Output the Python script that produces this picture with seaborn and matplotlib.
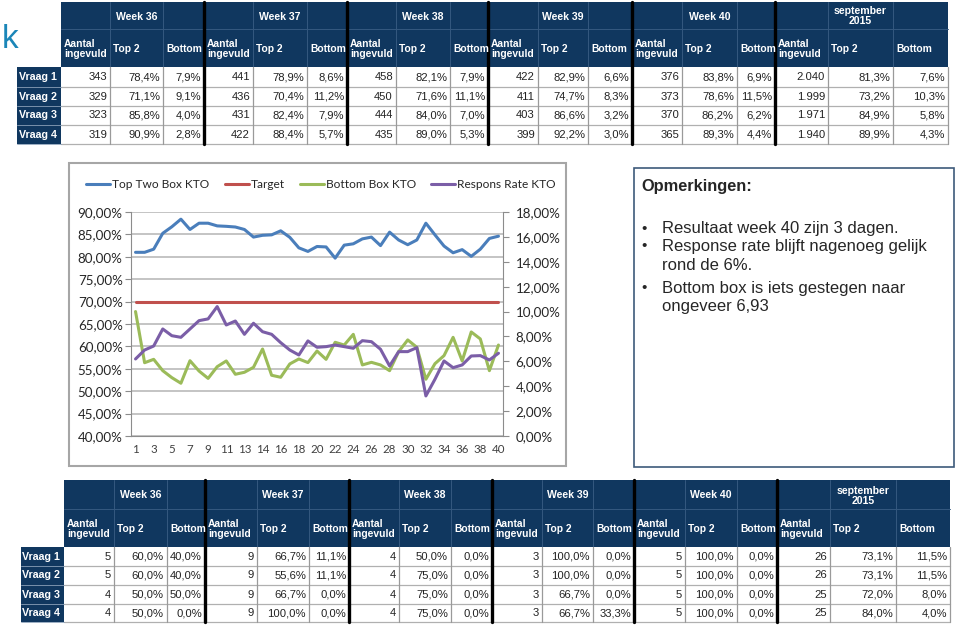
import numpy as np
import pandas as pd
import seaborn as sns
import matplotlib.pyplot as plt
from matplotlib.patches import Rectangle
from matplotlib.ticker import FuncFormatter, MultipleLocator, FixedLocator

# ---- table data ----
weeks = ["Week 36", "Week 37", "Week 38", "Week 39", "Week 40", "september\n2015"]
sub_headers = ["Aantal\ningevuld", "Top 2", "Bottom"]
questions = ["Vraag 1", "Vraag 2", "Vraag 3", "Vraag 4"]

top_counts = [[343, 441, 458, 422, 376, 2040],
              [329, 436, 450, 411, 373, 1999],
              [323, 431, 444, 403, 370, 1971],
              [319, 422, 435, 399, 365, 1940]]
top_top2 = [[78.4, 78.9, 82.1, 82.9, 83.8, 81.3],
            [71.1, 70.4, 71.6, 74.7, 78.6, 73.2],
            [85.8, 82.4, 84.0, 86.6, 86.2, 84.9],
            [90.9, 88.4, 89.0, 92.2, 89.3, 89.9]]
top_bottom = [[7.9, 8.6, 7.9, 6.6, 6.9, 7.6],
              [9.1, 11.2, 11.1, 8.3, 11.5, 10.3],
              [4.0, 7.9, 7.0, 3.2, 6.2, 5.8],
              [2.8, 5.7, 5.3, 3.0, 4.4, 4.3]]

low_counts = [[5, 9, 4, 3, 5, 26],
              [5, 9, 4, 3, 5, 26],
              [4, 9, 4, 3, 5, 25],
              [4, 9, 4, 3, 5, 25]]
low_top2 = [[60.0, 66.7, 50.0, 100.0, 100.0, 73.1],
            [60.0, 55.6, 75.0, 100.0, 100.0, 73.1],
            [50.0, 66.7, 75.0, 66.7, 100.0, 72.0],
            [50.0, 100.0, 75.0, 66.7, 100.0, 84.0]]
low_bottom = [[40.0, 11.1, 0.0, 0.0, 0.0, 11.5],
              [40.0, 11.1, 0.0, 0.0, 0.0, 11.5],
              [50.0, 0.0, 0.0, 0.0, 0.0, 8.0],
              [0.0, 0.0, 0.0, 33.3, 0.0, 4.0]]

# ---- chart data (percent) ----
top_two = [81.0, 81.0, 81.7, 85.25, 86.7, 88.4, 86.1, 87.5, 87.5, 86.9, 86.8,
           86.65, 86.1, 84.4, 84.8, 84.9, 85.8, 84.35, 82.0, 81.2, 82.3,
           82.2, 79.7, 82.6, 82.9, 84.0, 84.4, 82.5, 85.5, 83.75, 82.7,
           83.75, 87.5, 84.9, 82.4, 80.9, 81.6, 80.1, 81.7, 84.1, 84.6]
target = [70.0] * 41
bottom_box = [10.0, 5.89, 6.16, 5.25, 4.69, 4.24, 6.05, 5.22, 4.63, 5.57, 6.03,
              4.96, 5.12, 5.52, 6.99, 4.88, 4.72, 5.79, 6.19, 5.9, 6.83,
              6.16, 7.53, 7.31, 8.17, 5.71, 5.92, 5.71, 5.25, 6.78, 7.72,
              7.13, 4.56, 5.81, 6.46, 7.93, 6.03, 8.36, 7.80, 5.25, 7.31]
respons = [6.19, 6.91, 7.23, 8.60, 8.06, 7.93, 8.60, 9.27, 9.41, 10.40, 8.92,
           9.24, 8.17, 9.06, 8.38, 8.17, 7.50, 6.91, 6.51, 7.64, 7.13,
           7.18, 7.31, 7.18, 7.05, 7.66, 7.58, 6.97, 5.63, 6.78, 6.78,
           7.10, 3.22, 4.56, 6.03, 5.49, 5.71, 6.43, 6.46, 6.11, 6.65]
x_ticklabels = ["1", "3", "5", "7", "9", "11", "13", "14", "16", "18", "20",
                "22", "24", "26", "28", "30", "32", "34", "36", "38", "40"]
series_labels = ["Top Two Box KTO", "Target", "Bottom Box KTO", "Respons Rate KTO"]

remark_title = "Opmerkingen:"
remark_lines = [("\u2022", "Resultaat week 40 zijn 3 dagen."),
                ("\u2022", "Response rate blijft nagenoeg gelijk"),
                ("", "rond de 6%."),
                ("\u2022", "Bottom box is iets gestegen naar"),
                ("", "ongeveer 6,93")]

sns.set_style("white")
plt.rcParams['font.family'] = ['Liberation Sans', 'DejaVu Sans']

NAVY = '#10375f'
BLUE, RED, GREEN, PURPLE = '#4a7ebb', '#c0504d', '#9bbb59', '#7b5ea7'

fig = plt.figure(figsize=(9.6, 6.26), dpi=100)
bg = fig.add_axes([0, 0, 1, 1])
bg.set_xlim(0, 960)
bg.set_ylim(626, 0)
bg.axis('off')


def fmt_count(n):
    return f"{n:,}".replace(",", ".")


def fmt_pct(v):
    return f"{v:.1f}%".replace(".", ",")


def draw_table(ax, xe, ye, lab_x, counts, top2, bottom):
    y0, ymid, yh = ye[0], ye[1], ye[2]
    rows = ye[2:]
    ax.add_patch(Rectangle((xe[0], y0), xe[-1] - xe[0], yh - y0, fc=NAVY, ec='none'))
    ax.plot([xe[0], xe[-1]], [ymid, ymid], color='#35597f', lw=0.7)
    for x in xe[1:-1]:
        ax.plot([x, x], [y0, yh], color='#35597f', lw=0.7)
    for g, wk in enumerate(weeks):
        c = 3 * g
        ax.text((xe[c + 1] + xe[c + 2]) / 2, (y0 + ymid) / 2 + 1, wk, ha='center', va='center',
                color='white', fontweight='bold', fontsize=7.6, linespacing=1.0)
        for k, sub in enumerate(sub_headers):
            ax.text(xe[c + k] + 3, (ymid + yh) / 2 + 1, sub, ha='left', va='center',
                    color='white', fontweight='bold', fontsize=7.4, linespacing=1.05)
    # row labels
    ax.add_patch(Rectangle((lab_x, rows[0]), xe[0] - lab_x, rows[-1] - rows[0], fc=NAVY, ec='none'))
    for r, q in enumerate(questions):
        yc = (rows[r] + rows[r + 1]) / 2
        ax.text(xe[0] - 4, yc + 0.5, q, ha='right', va='center', color='white',
                fontweight='bold', fontsize=7.7)
        vals = []
        for g in range(6):
            vals += [fmt_count(counts[r][g]), fmt_pct(top2[r][g]), fmt_pct(bottom[r][g])]
        for c, v in enumerate(vals):
            ax.text(xe[c + 1] - 3, yc + 0.5, v, ha='right', va='center', fontsize=8.1, color='#222222')
    for y in rows[1:]:
        ax.plot([xe[0], xe[-1]], [y, y], color='#b0b0b0', lw=0.9)
        ax.plot([lab_x, xe[0]], [y, y], color='#8aa0b8', lw=0.6)
    for x in xe[1:]:
        ax.plot([x, x], [rows[0], rows[-1]], color='#9a9a9a', lw=0.9)
    for c in (3, 6, 9, 12, 15):
        ax.plot([xe[c], xe[c]], [y0, rows[-1]], color='black', lw=2.4)


top_x = [61, 110, 163, 204, 253, 307, 347, 396, 450, 488, 538, 588, 632, 682, 737, 775, 828, 893, 948]
top_y = [2, 29, 67, 86.5, 105.5, 124.5, 143.5]
low_x = [64, 114, 167, 205, 257, 309, 349, 399, 451, 492, 542, 593, 634, 685, 737, 777, 830, 896, 950]
low_y = [480, 509, 547, 565.5, 584.5, 603.5, 622]

draw_table(bg, top_x, top_y, 17, top_counts, top_top2, top_bottom)
draw_table(bg, low_x, low_y, 21, low_counts, low_top2, low_bottom)

bg.text(2, 40, "k", color='#1b86b8', fontsize=24, va='center', ha='left')

# chart panel + remarks box
bg.add_patch(Rectangle((69, 163), 497, 303, fc='white', ec='#a6a6a6', lw=1.5))
bg.add_patch(Rectangle((634, 168), 320, 299, fc='white', ec='#3d5a7a', lw=1.2))
bg.text(641, 187, remark_title, fontweight='bold', fontsize=11.8, va='center', ha='left')
line_y = [229, 246, 265, 288, 306]
for yy, (bullet, txt) in zip(line_y, remark_lines):
    if bullet:
        bg.text(641, yy, bullet, fontsize=11, va='center', ha='left')
    bg.text(662, yy, txt, fontsize=12, va='center', ha='left')

# line chart
df = pd.DataFrame({"punt": np.arange(len(top_two)), "top_two": top_two, "target": target,
                   "bottom_box": bottom_box, "respons": respons})

ax = fig.add_axes([131 / 960, 1 - 436 / 626, 372 / 960, 224 / 626])
ax.patch.set_alpha(0)
sns.lineplot(data=df, x="punt", y="top_two", ax=ax, color=BLUE, lw=2.2, legend=False)
sns.lineplot(data=df, x="punt", y="target", ax=ax, color=RED, lw=2.2, legend=False)
ax2 = ax.twinx()
sns.lineplot(data=df, x="punt", y="bottom_box", ax=ax2, color=GREEN, lw=2.2, legend=False)
sns.lineplot(data=df, x="punt", y="respons", ax=ax2, color=PURPLE, lw=2.2, legend=False)

ax.set_xlim(-0.5, 40.5)
ax.set_ylim(40, 90)
ax2.set_ylim(0, 18)
ax.yaxis.set_major_locator(MultipleLocator(5))
ax2.yaxis.set_major_locator(MultipleLocator(2))
ax.yaxis.set_major_formatter(FuncFormatter(lambda v, p: f"{v:.2f}%".replace(".", ",")))
ax2.yaxis.set_major_formatter(FuncFormatter(lambda v, p: f"{v:.2f}%".replace(".", ",")))
ax.set_xticks(np.arange(0, 41, 2))
ax.set_xticklabels(x_ticklabels)
ax.xaxis.set_minor_locator(FixedLocator(np.arange(-0.5, 41, 1)))
ax.grid(axis='y', color='#bfbfbf', lw=1.3)
ax.set_axisbelow(True)
ax.set_xlabel("")
ax.set_ylabel("")
ax2.set_ylabel("")

for a in (ax, ax2):
    for s in a.spines.values():
        s.set_color('#8c8c8c')
    a.spines['top'].set_visible(False)
ax.spines['right'].set_visible(False)
ax2.spines['left'].set_visible(False)
ax2.spines['bottom'].set_visible(False)

ax.tick_params(axis='x', which='major', length=0, pad=6, labelsize=8.3, labelcolor='#404040')
ax.tick_params(axis='x', which='minor', length=4, color='#8c8c8c', direction='out')
ax.tick_params(axis='y', length=4, color='#8c8c8c', pad=2, labelsize=9.6, labelcolor='#262626', left=True)
ax2.tick_params(axis='y', length=4, color='#8c8c8c', pad=5, labelsize=9.6, labelcolor='#262626', right=True)
for t in ax.get_xticklabels() + ax.get_yticklabels() + ax2.get_yticklabels():
    t.set_fontfamily(['Lato', 'DejaVu Sans'])

handles = list(ax.get_lines()[:2]) + list(ax2.get_lines()[:2])
leg = fig.legend(handles, series_labels, loc='center', ncol=4, frameon=False,
                 bbox_to_anchor=(321 / 960, 1 - 185 / 626), handlelength=2.0,
                 handletextpad=0.15, columnspacing=1.3,
                 prop={'family': ['Lato', 'DejaVu Sans'], 'size': 8.6})

fig.savefig("out.png", dpi=100)
